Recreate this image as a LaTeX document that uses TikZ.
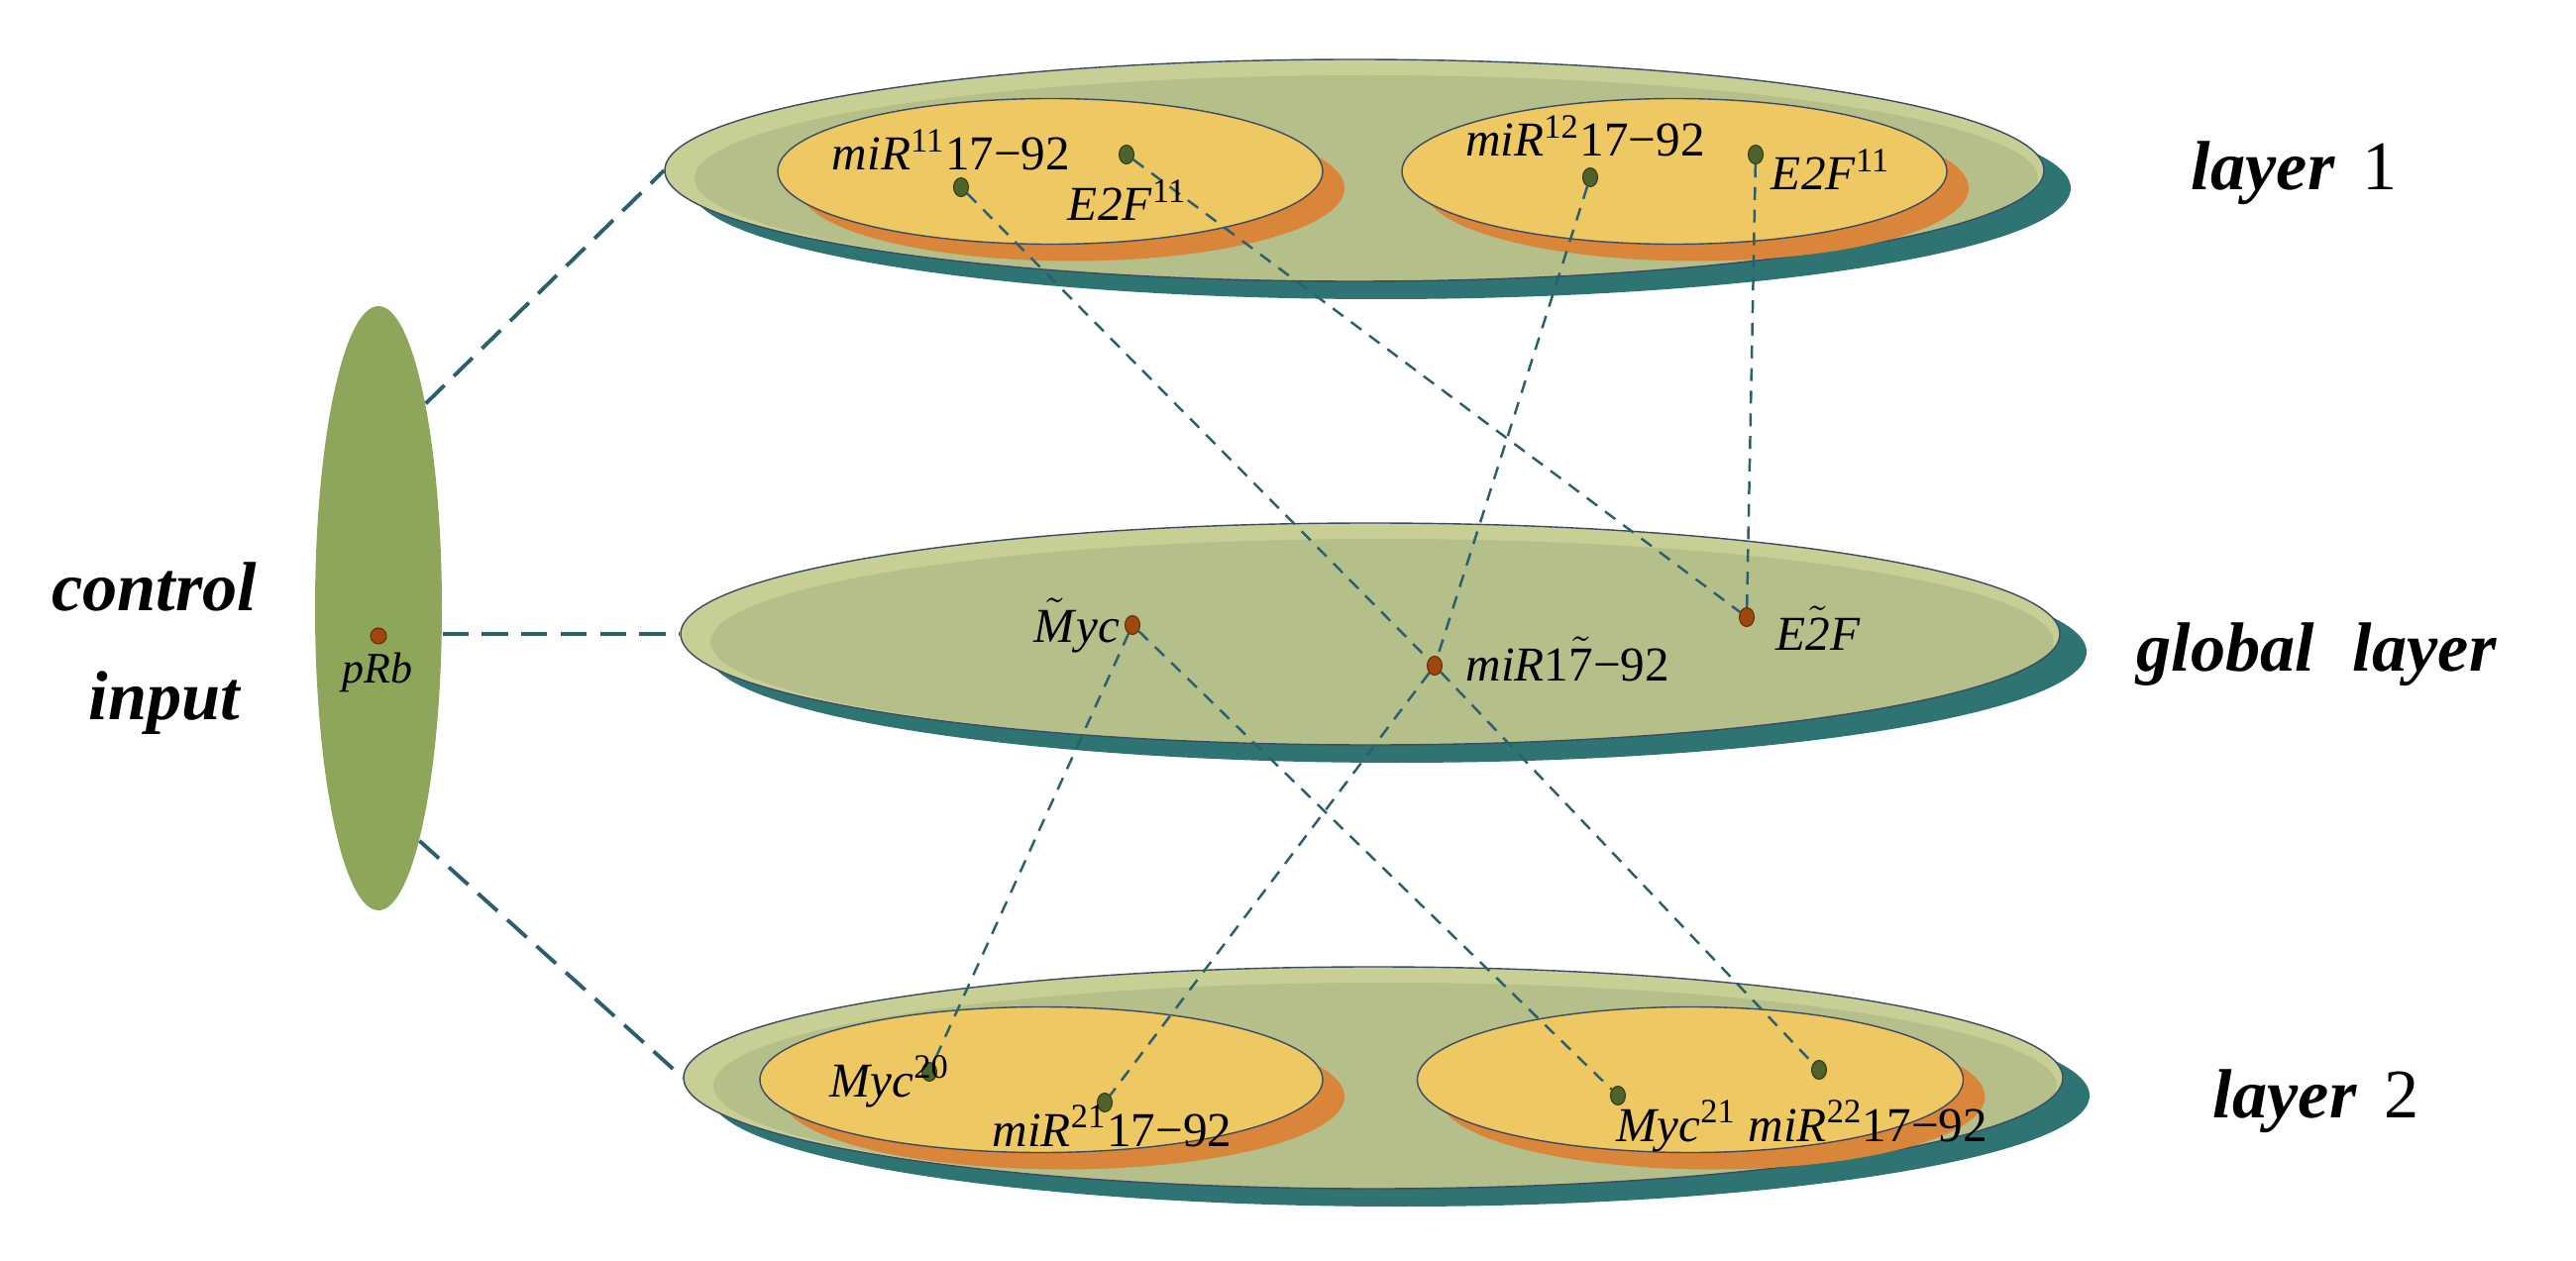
\documentclass[tikz,border=0pt]{standalone}
\usepackage{fontspec}
\setmainfont{Liberation Serif}
\usetikzlibrary{shapes,shadows,positioning}

\definecolor{layerlight}{HTML}{C8CF95}
\definecolor{layerdark}{HTML}{B4BF89}
\definecolor{layerteal}{HTML}{2E7472}
\definecolor{subyellow}{HTML}{EEC862}
\definecolor{suborange}{HTML}{D9853A}
\definecolor{ctrlgreen}{HTML}{8EA65A}
\definecolor{rimblue}{HTML}{3D4A66}
\definecolor{dotgreen}{HTML}{4E6229}
\definecolor{dotbrown}{HTML}{A0470E}
\definecolor{linkteal}{HTML}{2B5F6D}

\begin{document}
\begin{tikzpicture}[
		layer/.style={ellipse, draw=rimblue, line width=.4pt, fill=layerlight,
			minimum width=13.92cm, minimum height=2.24cm, inner sep=0pt,
			general shadow={fill=layerteal, shadow xshift=.27cm, shadow yshift=-.18cm},
			path picture={\fill[layerdark] ([xshift=.12cm, yshift=-.08cm]path picture bounding box.center) ellipse (6.78cm and 1.04cm);}},
		sublayer/.style={ellipse, draw=rimblue, line width=.4pt, fill=subyellow,
			minimum height=1.47cm, inner sep=0pt,
			general shadow={fill=suborange, shadow xshift=.22cm, shadow yshift=-.17cm}},
		gdot/.style={ellipse, draw=dotgreen!60!black, line width=.3pt, fill=dotgreen,
			minimum width=.15cm, minimum height=.19cm, inner sep=0pt},
		bdot/.style={gdot, draw=dotbrown!60!black, fill=dotbrown},
		lbl/.style={font=\fontsize{14}{16}\selectfont, inner sep=0pt},
		title/.style={font=\fontsize{20}{24}\selectfont\bfseries\itshape, inner sep=0pt, anchor=base},
		link/.style={draw=linkteal, line width=1.1pt, dash pattern=on 7.5pt off 3.8pt},
		tie/.style={draw=linkteal, line width=.7pt, dash pattern=on 3.7pt off 2.8pt}]
	\useasboundingbox (0,0) rectangle (26,12.72);

	% Layers
	\node (ctrl) [ellipse, fill=ctrlgreen, minimum width=1.28cm, minimum height=6.1cm, inner sep=0pt] at (3.82,6.58) {};
	\node (top) [layer] at (13.67,11.00) {};
	\node (mid) [layer] at (13.83,6.32) {};
	\node (bot) [layer] at (13.86,1.84) {};

	% Sub-layers
	\node (tl) [sublayer, minimum width=5.5cm] at (10.60,10.99) {};
	\node (tr) [sublayer, minimum width=5.5cm] at (16.90,10.99) {};
	\node (bl) [sublayer, minimum width=5.68cm] at (10.51,1.82) {};
	\node (br) [sublayer, minimum width=5.51cm] at (17.06,1.82) {};

	% Dots
	\node (prb) [bdot, minimum width=.16cm, minimum height=.16cm] at (3.82,6.30) {};
	\node (t11m) [gdot] at (9.70,10.83) {};
	\node (t11e) [gdot] at (11.37,11.16) {};
	\node (t12m) [gdot] at (16.05,10.93) {};
	\node (t12e) [gdot] at (17.72,11.16) {};
	\node (gmyc) [bdot] at (11.43,6.41) {};
	\node (gmir) [bdot] at (14.48,6.00) {};
	\node (ge2f) [bdot] at (17.63,6.49) {};
	\node (b20y) [gdot] at (9.38,1.90) {};
	\node (b21m) [gdot] at (11.15,1.59) {};
	\node (b21y) [gdot] at (16.33,1.66) {};
	\node (b22m) [gdot] at (18.36,1.92) {};

	% Links
	\draw[link] (ctrl.77) -- (top.west);
	\draw[link] (ctrl.east |- mid.west) -- (mid.west);
	\draw[link] (ctrl.-80) -- (bot.west);
	\foreach \a/\b in {t11m/gmir, t12m/gmir, gmir/b21m, gmir/b22m,
		t11e/ge2f, t12e/ge2f, gmyc/b20y, gmyc/b21y}
		\draw[tie] (\a) -- (\b);

	% Labels
	\node (l11m) [lbl, anchor=base] at (9.60,11.00) {\textit{miR}\textsuperscript{11}17−92};
	\node (l11e) [lbl, anchor=base] at (11.38,10.49) {\textit{E2F}\textsuperscript{11}};
	\node (l12m) [lbl, anchor=base] at (16.00,11.14) {\textit{miR}\textsuperscript{12}17−92};
	\node (l12e) [lbl, anchor=base] at (18.48,10.80) {\textit{E2F}\textsuperscript{11}};
	\node (lgmyc) [lbl, anchor=base east] at (11.31,6.24) {$\tilde{\mbox{\textit{M}}}$\textit{yc}};
	\node (lgmir) [lbl, anchor=base west] at (14.79,5.85) {\textit{miR}1$\tilde{\mbox{7}}$−92};
	\node (lge2f) [lbl, anchor=base west] at (17.92,6.16) {\textit{E}$\tilde{\mbox{\textit{2}}}$\textit{F}};
	\node (l20y) [lbl, anchor=base west] at (8.37,1.65) {\textit{Myc}\textsuperscript{20}};
	\node (l21m) [lbl, anchor=base west] at (10.01,1.15) {\textit{miR}\textsuperscript{21}17−92};
	\node (l21y) [lbl, anchor=base west] at (16.31,1.20) {\textit{Myc}\textsuperscript{21}};
	\node (l22m) [lbl, anchor=base west, right=3pt of l21y.base east, anchor=base west] {\textit{miR}\textsuperscript{22}17−92};
	\node (lprb) [lbl, anchor=base, font=\fontsize{12.5}{14}\selectfont] at (3.81,5.82) {\textit{pRb}};

	% Titles
	\node (ctl) [title] at (1.56,6.55) {control};
	\node (inp) [title] at (1.66,5.46) {input};
	\node (lay1) [title] at (23.16,10.80) {layer\hspace{.4em}\textnormal{1}};
	\node (glob) [title] at (23.38,5.95) {global\hspace{.3em} layer};
	\node (lay2) [title] at (23.38,1.44) {layer\hspace{.4em}\textnormal{2}};
\end{tikzpicture}
\end{document}
